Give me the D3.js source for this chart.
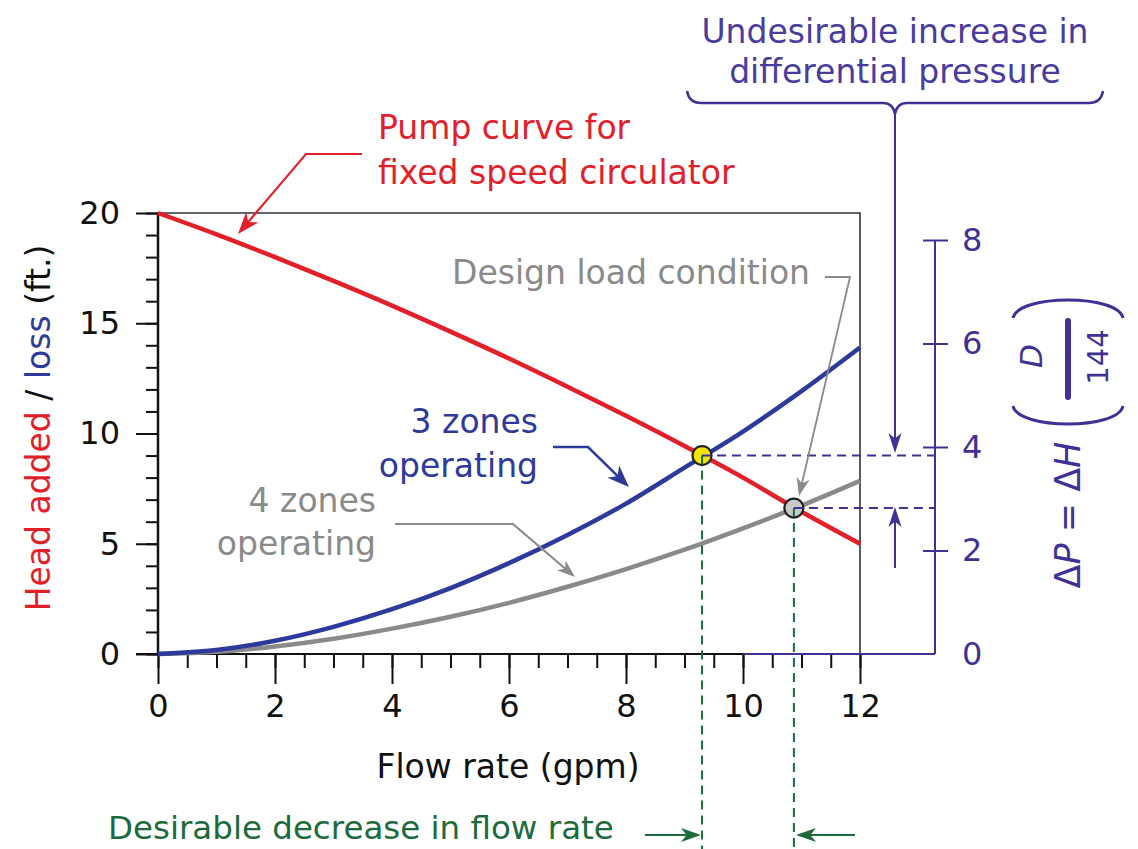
<!DOCTYPE html>
<html><head><meta charset="utf-8">
<script src="https://cdn.jsdelivr.net/npm/d3@7"></script>
<style>body{margin:0;background:#fff} svg{display:block} text{font-family:"DejaVu Sans",sans-serif}</style>
</head><body><svg id="c" width="1138" height="849"></svg>
<script>
// ---- data ----
const flow = [0,1,2,3,4,5,6,7,8,9,10,11,12];
const pumpHead = [20,19.03,18.0,16.92,15.8,14.62,13.4,12.12,10.8,9.43,8.0,6.45,5.0];
const loss3Zones = [0,0.18,0.6,1.23,2.03,2.99,4.12,5.4,6.82,8.45,10.09,11.92,13.9];
const loss4Zones = [0,0.1,0.34,0.69,1.15,1.69,2.32,3.05,3.85,4.73,5.7,6.73,7.85];
const opFlow = [9.3, 10.87];
const opHead = [9.0, 6.62];
const opFill = ["#f3e500", "#c9c9c9"];
const xTicks = [0,2,4,6,8,10,12];
const yTicks = [0,5,10,15,20];
const dpTicks = [0,2,4,6,8];

const RED="#e3202a", BLUE="#2d3a9c", GRAY="#8a8a8a", PURPLE="#3f3196", PTEXT="#4a3c9e", GREEN="#1d6b3c";

const svg = d3.select("#c");
const x = d3.scaleLinear([0,12],[158,860]);
const y = d3.scaleLinear([0,20],[654,213]);
const yR = d3.scaleLinear([0,8],[654,240]);
const X0 = x(0), X1 = x(12), Y0 = y(0), Y1 = y(20);
const RX = 935;

// frame (top + right)
svg.append("path").attr("d",`M${X0},${Y1}H${X1}V${Y0}`).attr("fill","none").attr("stroke","#333").attr("stroke-width",1.6);

// x axis
const gx = svg.append("g").attr("transform",`translate(0,${Y0})`);
gx.call(d3.axisBottom(x).tickValues(d3.range(0,12.01,0.5)).tickSize(14).tickFormat(""));
gx.call(g=>g.select(".domain").remove());
const gx2 = svg.append("g").attr("transform",`translate(0,${Y0})`);
gx2.call(d3.axisBottom(x).tickValues(xTicks).tickSize(30).tickPadding(10).tickFormat(d3.format("d")));
gx2.call(g=>g.select(".domain").remove());
[gx,gx2].forEach(g=>g.selectAll(".tick line").attr("stroke","#111").attr("stroke-width",2));
gx2.selectAll(".tick text").attr("font-size",32).attr("fill","#111").attr("font-family","DejaVu Sans");
svg.append("line").attr("x1",X0-22).attr("x2",x(10)).attr("y1",Y0).attr("y2",Y0).attr("stroke","#111").attr("stroke-width",2);
svg.append("line").attr("x1",x(10)).attr("x2",RX).attr("y1",Y0).attr("y2",Y0).attr("stroke",PURPLE).attr("stroke-width",2);

// y axis
const gy = svg.append("g").attr("transform",`translate(${X0},0)`);
gy.call(d3.axisLeft(y).tickValues(d3.range(0,20.01,1)).tickSize(12).tickFormat(""));
gy.call(g=>g.select(".domain").remove());
const gy2 = svg.append("g").attr("transform",`translate(${X0},0)`);
gy2.call(d3.axisLeft(y).tickValues(yTicks).tickSize(22).tickPadding(16).tickFormat(d3.format("d")));
gy2.call(g=>g.select(".domain").remove());
[gy,gy2].forEach(g=>g.selectAll(".tick line").attr("stroke","#111").attr("stroke-width",2));
gy2.selectAll(".tick text").attr("font-size",32).attr("fill","#111").attr("font-family","DejaVu Sans");
svg.append("line").attr("x1",X0).attr("x2",X0).attr("y1",Y1).attr("y2",Y0).attr("stroke","#111").attr("stroke-width",2.5);

// right axis
const gr = svg.append("g").attr("transform",`translate(${RX},0)`);
gr.call(d3.axisRight(yR).tickValues(dpTicks).tickSize(13).tickPadding(14).tickFormat(d3.format("d")));
gr.select(".domain").attr("stroke",PURPLE).attr("stroke-width",2).attr("d",`M0,${yR(8)}V${yR(0)}`);
gr.selectAll(".tick line").attr("stroke",PURPLE).attr("stroke-width",2).attr("x1",-12)
  .filter(d=>d===0).remove();
gr.selectAll(".tick text").attr("font-size",32).attr("fill",PURPLE).attr("font-family","DejaVu Sans");

// curves
const line = d3.line().x((d,i)=>x(flow[i])).y(d=>y(d)).curve(d3.curveMonotoneX);
svg.append("path").attr("d",line(loss4Zones)).attr("fill","none").attr("stroke",GRAY).attr("stroke-width",4.5);
svg.append("path").attr("d",line(loss3Zones)).attr("fill","none").attr("stroke",BLUE).attr("stroke-width",4.5);
svg.append("path").attr("d",line(pumpHead)).attr("fill","none").attr("stroke",RED).attr("stroke-width",4.5);

// operating points
svg.selectAll("circle.op").data(opFlow).join("circle").attr("class","op")
  .attr("cx",d=>x(d)).attr("cy",(d,i)=>y(opHead[i])).attr("r",9.5)
  .attr("fill",(d,i)=>opFill[i]).attr("stroke","#222").attr("stroke-width",2.2);
// dashed guides
opFlow.forEach((f,i)=>{
  svg.append("line").attr("x1",x(f)).attr("x2",RX).attr("y1",y(opHead[i])).attr("y2",y(opHead[i]))
    .attr("stroke",PURPLE).attr("stroke-width",2).attr("stroke-dasharray","9,6");
  svg.append("line").attr("x1",x(f)).attr("x2",x(f)).attr("y1",y(opHead[i])).attr("y2",849)
    .attr("stroke",GREEN).attr("stroke-width",2).attr("stroke-dasharray","9,6");
});

// arrows helper
function leader(pts,color,w,len,hw){
  const n=pts.length, [tx,ty]=pts[n-1], [px,py]=pts[n-2];
  const ang=Math.atan2(ty-py,tx-px);
  const p2=pts.slice(); p2[n-1]=[tx-Math.cos(ang)*len*0.6, ty-Math.sin(ang)*len*0.6];
  svg.append("path").attr("d",d3.line()(p2)).attr("fill","none").attr("stroke",color).attr("stroke-width",w);
  const head=[[0,0],[-len,-hw],[-len*0.72,0],[-len,hw]];
  svg.append("path").attr("d","M"+head.map(p=>p.join(",")).join("L")+"Z")
    .attr("transform",`translate(${tx},${ty}) rotate(${ang*180/Math.PI})`).attr("fill",color);
}
leader([[362,154],[306,154],[238,234]],RED,2.2,22,8);
leader([[553,447],[588,447],[629,487]],BLUE,2.5,22,8.5);
leader([[395,524],[513,524],[575,577]],GRAY,2.2,18,6.5);
leader([[825,277],[850,277],[799,496]],GRAY,1.8,18,6.5);
leader([[895,112],[895,453]],PURPLE,2,20,6.5);
leader([[895,568],[895,507]],PURPLE,2,20,6.5);
leader([[645,835],[701,835]],GREEN,2,20,7);
leader([[855,835],[796,835]],GREEN,2,20,7);

// brace
svg.append("path").attr("d","M687,91 Q689,103 701,103 L883,103 Q893,103 895,114 Q897,103 907,103 L1089,103 Q1101,103 1103,91")
  .attr("fill","none").attr("stroke",PURPLE).attr("stroke-width",2.5);

// texts
function txt(s,xx,yy,color,anchor,size){
  return svg.append("text").attr("x",xx).attr("y",yy).attr("fill",color).attr("text-anchor",anchor||"start")
    .attr("font-size",size||33).text(s);
}
txt("Undesirable increase in",895,43,PTEXT,"middle");
txt("differential pressure",895,83,PTEXT,"middle");
txt("Pump curve for",378,139,RED);
txt("fixed speed circulator",378,184,RED);
txt("3 zones",538,433,BLUE,"end");
txt("operating",538,477,BLUE,"end");
txt("4 zones",376,512,GRAY,"end");
txt("operating",376,555,GRAY,"end");
txt("Design load condition",452,284,GRAY);
txt("Desirable decrease in flow rate",108,839,GREEN,"start",32.5);
txt("Flow rate (gpm)",508,778,"#111","middle");

// y title
const yt = svg.append("text").attr("transform","translate(50,428) rotate(-90)").attr("text-anchor","middle").attr("font-size",33);
yt.append("tspan").attr("fill",RED).text("Head added");
yt.append("tspan").attr("fill","#111").text(" / ");
yt.append("tspan").attr("fill",BLUE).text("loss");
yt.append("tspan").attr("fill","#111").text(" (ft.)");

// right title
const rt = svg.append("text").attr("transform","translate(1080,515) rotate(-90)").attr("text-anchor","middle").attr("font-size",35).attr("fill",PURPLE);
rt.append("tspan").text("Δ");
rt.append("tspan").attr("font-style","italic").text("P");
rt.append("tspan").text(" = Δ");
rt.append("tspan").attr("font-style","italic").text("H");
svg.append("text").attr("transform","translate(1042,356) rotate(-90)").attr("text-anchor","middle").attr("font-size",31).attr("font-style","italic").attr("fill",PURPLE).text("D");
svg.append("text").attr("transform","translate(1108,357) rotate(-90)").attr("text-anchor","middle").attr("font-size",29).attr("fill",PURPLE).text("144");
svg.append("line").attr("x1",1068).attr("x2",1068).attr("y1",321).attr("y2",397).attr("stroke",PURPLE).attr("stroke-width",6).attr("stroke-linecap","round");
svg.append("path").attr("d","M1013,318 C1018,294 1118,294 1123,318").attr("fill","none").attr("stroke",PURPLE).attr("stroke-width",3);
svg.append("path").attr("d","M1013,406 C1018,430 1118,430 1123,406").attr("fill","none").attr("stroke",PURPLE).attr("stroke-width",3);
</script></body></html>
